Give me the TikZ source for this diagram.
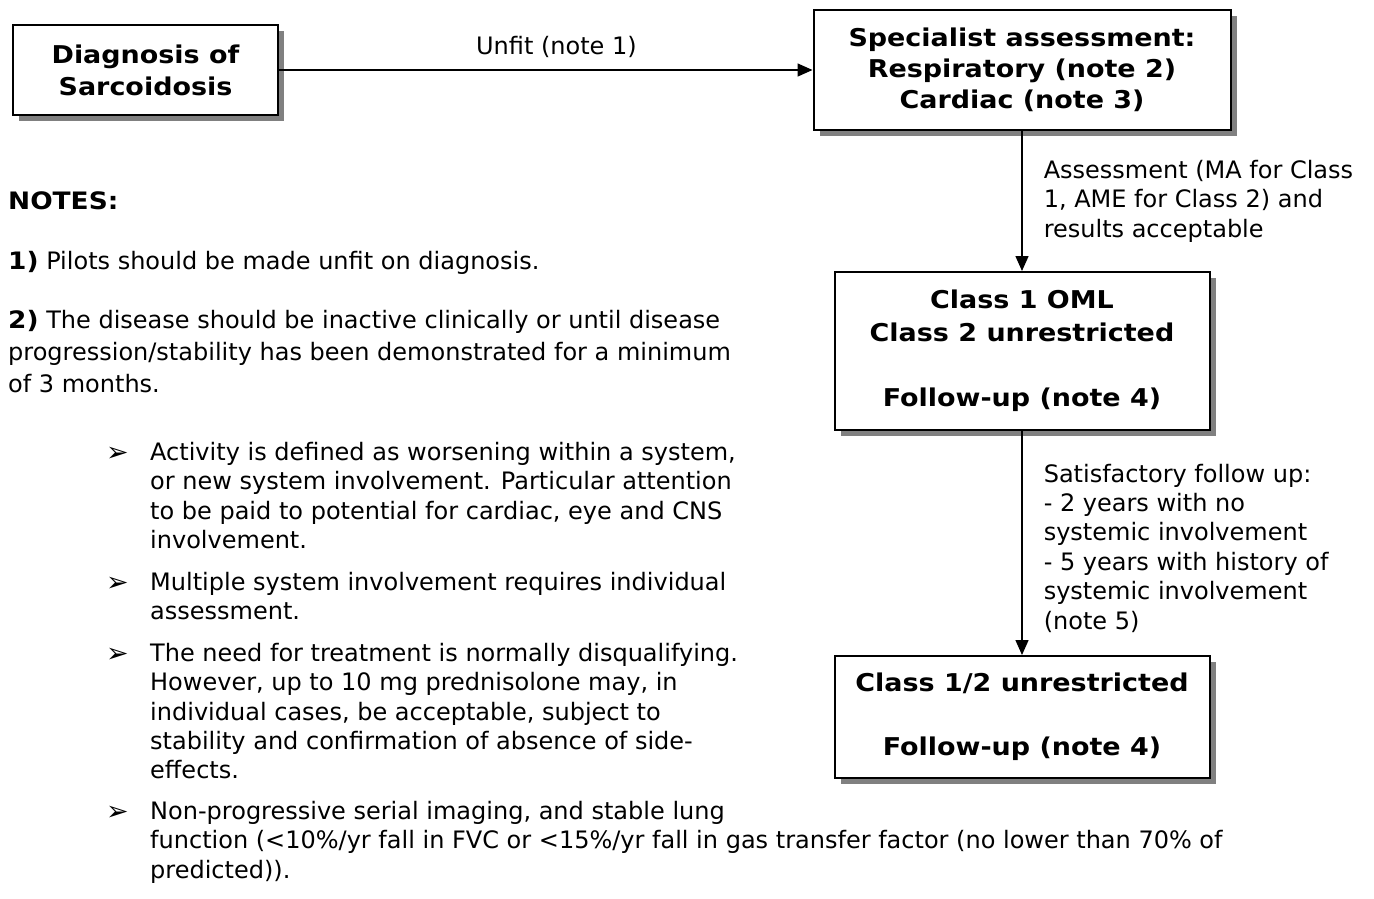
\documentclass[tikz,border=0pt]{standalone}
\usepackage{fontspec}
\setmainfont{DejaVu Sans}
\newfontfamily\widebold[FakeStretch=1.1]{DejaVu Sans Bold}
\usetikzlibrary{arrows.meta,shadows}
\begin{document}
\begin{tikzpicture}[x=1pt,y=-1pt,
  box/.style={draw=black, line width=2pt, fill=white, align=center, inner sep=0pt,
     font=\widebold\fontsize{24.5}{32}\selectfont,
     general shadow={fill=black!50, shadow xshift=6pt, shadow yshift=-6pt}},
  conn/.style={line width=1.5pt, -{Triangle[length=15pt,width=13pt]}},
  lbl/.style={font=\fontsize{24}{29.4}\selectfont, align=left, inner sep=0pt},
  note/.style={font=\fontsize{24}{29.3}\selectfont, align=left, inner sep=0pt, anchor=north west},
  bul/.style={font=\fontsize{27}{27}\selectfont, inner sep=0pt, anchor=base west}]
\useasboundingbox (0,0) rectangle (1374,898);
% boxes
\node[box, minimum width=265pt, minimum height=90pt] (diag) at (145.5,70) {Diagnosis of\\Sarcoidosis};
\node[box, minimum width=417pt, minimum height=120pt, font=\widebold\fontsize{24.5}{31}\selectfont] (spec) at (1022,70) {Specialist assessment:\\Respiratory (note 2)\\Cardiac (note 3)};
\node[box, minimum width=375pt, minimum height=158pt, font=\widebold\fontsize{24.5}{32.7}\selectfont] (cls) at (1022,351) {Class 1 OML\\Class 2 unrestricted\\\mbox{}\\Follow-up (note 4)};
\node[box, minimum width=375pt, minimum height=122pt] (unr) at (1022,717) {Class 1/2 unrestricted\\\mbox{}\\Follow-up (note 4)};
% connectors
\draw[conn] (diag.east) -- node[pos=0.52, lbl, above=12pt] (l1) {Unfit (note 1)} (spec.west);
\draw[conn] (spec.south) -- node[midway, lbl, right=21pt] (l2) {Assessment (MA for Class\\1, AME for Class 2) and\\results acceptable} (cls.north);
\draw[conn] (cls.south) -- node[midway, lbl, right=21pt, yshift=-5pt] (l3) {Satisfactory follow up:\\- 2 years with no\\systemic involvement\\- 5 years with history of\\systemic involvement\\(note 5)} (unr.north);
% notes
\node[note, anchor=base west, font=\widebold\fontsize{24}{29}\selectfont] (notes) at (8,209) {NOTES:};
\node[note, anchor=base west] (n1) at (8,269) {{\widebold 1)} Pilots should be made unfit on diagnosis.};
\node[note, font=\fontsize{24}{32}\selectfont] (n2) at (8,310) {{\widebold 2)} The disease should be inactive clinically or until disease\\progression/stability has been demonstrated for a minimum\\of 3 months.};
\node[note] (b1) at (150,442) {Activity is defined as worsening within a system,\\or new system involvement. Particular attention\\to be paid to potential for cardiac, eye and CNS\\involvement.};
\node[note] (b2) at (150,572) {Multiple system involvement requires individual\\assessment.};
\node[note] (b3) at (150,643) {The need for treatment is normally disqualifying.\\However, up to 10 mg prednisolone may, in\\individual cases, be acceptable, subject to\\stability and confirmation of absence of side-\\effects.};
\node[note] (b4) at (150,801) {Non-progressive serial imaging, and stable lung\\function (<10\%/yr fall in FVC or <15\%/yr fall in gas transfer factor (no lower than 70\% of\\predicted)).};
\node[bul] (m1) at (106,461) {➢};
\node[bul] (m2) at (106,591) {➢};
\node[bul] (m3) at (106,662) {➢};
\node[bul] (m4) at (106,820) {➢};
\end{tikzpicture}
\end{document}
